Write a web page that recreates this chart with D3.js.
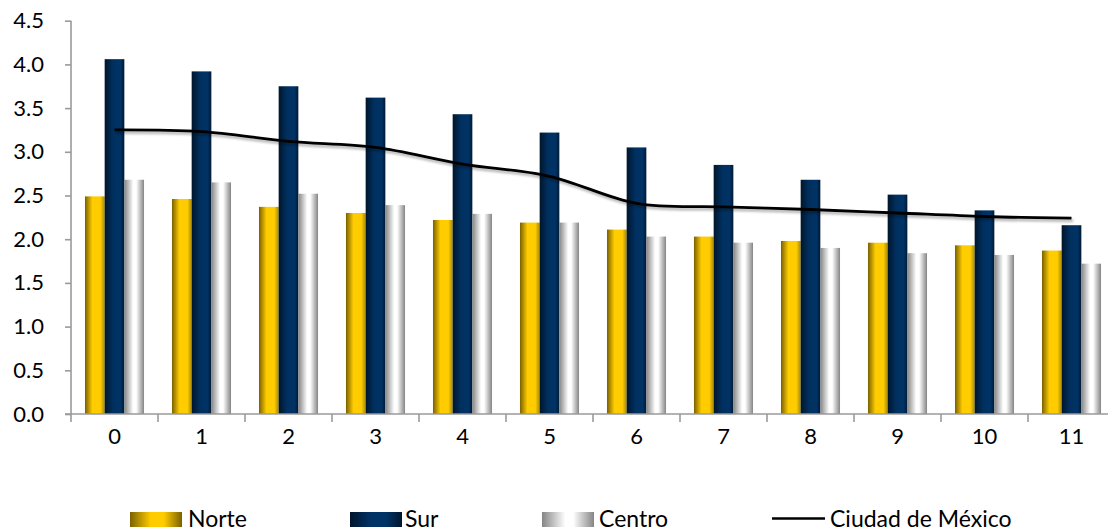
<!DOCTYPE html>
<html>
<head>
<meta charset="utf-8">
<script src="https://cdn.jsdelivr.net/npm/d3@7"></script>
<style>
  html, body { margin: 0; padding: 0; background: #ffffff; }
  svg { display: block; }
  text { font-family: Lato, "Noto Sans", sans-serif; fill: #000; }
</style>
</head>
<body>
<svg id="chart" width="1108" height="532"></svg>
<script>
// Categories and series
const categories = ["0", "1", "2", "3", "4", "5", "6", "7", "8", "9", "10", "11"];
const seriesNames = ["Norte", "Sur", "Centro"];
const norte  = [2.49, 2.46, 2.37, 2.30, 2.22, 2.19, 2.11, 2.03, 1.98, 1.96, 1.93, 1.87];
const sur    = [4.06, 3.92, 3.75, 3.62, 3.43, 3.22, 3.05, 2.85, 2.68, 2.51, 2.33, 2.16];
const centro = [2.68, 2.65, 2.52, 2.39, 2.29, 2.19, 2.03, 1.96, 1.90, 1.84, 1.82, 1.72];
const cdmx   = [3.25, 3.23, 3.12, 3.05, 2.86, 2.72, 2.41, 2.37, 2.34, 2.30, 2.26, 2.24];
const lineName = "Ciudad de México";
const yTicks = [0, 0.5, 1, 1.5, 2, 2.5, 3, 3.5, 4, 4.5];

const svg = d3.select("#chart");
const defs = svg.append("defs");

// Horizontal cylinder-like gradients for each series
const gradients = {
  Norte:  [[0, "#7a6100"], [0.38, "#ffcc00"], [0.78, "#ffcc00"], [1, "#a88a00"]],
  Sur:    [[0, "#00152b"], [0.42, "#00305f"], [0.8, "#003366"], [1, "#001a35"]],
  Centro: [[0, "#858585"], [0.45, "#ffffff"], [0.6, "#ffffff"], [1, "#858585"]]
};
const legendGradients = {
  Norte:  [[0, "#7a6100"], [0.4, "#ffcc00"], [0.65, "#ffcc00"], [1, "#7a6100"]],
  Sur:    [[0, "#00152b"], [0.4, "#003366"], [0.7, "#003366"], [1, "#00152b"]],
  Centro: [[0, "#858585"], [0.45, "#ffffff"], [0.6, "#ffffff"], [1, "#858585"]]
};
function makeGrad(id, stops) {
  const g = defs.append("linearGradient").attr("id", id)
    .attr("x1", "0%").attr("x2", "100%").attr("y1", "0%").attr("y2", "0%");
  stops.forEach(([o, c]) => g.append("stop").attr("offset", o).attr("stop-color", c));
}
seriesNames.forEach(s => {
  makeGrad("grad-" + s, gradients[s]);
  makeGrad("lgrad-" + s, legendGradients[s]);
});

const shadow = defs.append("filter").attr("id", "lineShadow")
  .attr("x", "-5%").attr("y", "-50%").attr("width", "110%").attr("height", "200%");
shadow.append("feDropShadow").attr("dx", 1.5).attr("dy", 2.5)
  .attr("stdDeviation", 1.2).attr("flood-color", "#000").attr("flood-opacity", 0.3);

// Scales
const plotLeft = 71, plotRight = 1115, plotTop = 20.7, plotBottom = 414;
const x0 = d3.scaleBand().domain(categories).range([plotLeft, plotRight]).padding(0);
const x1 = d3.scaleBand().domain(seriesNames).range([0, x0.bandwidth()])
  .paddingInner(0).paddingOuter(0.71);
const y = d3.scaleLinear().domain([0, 4.5]).range([plotBottom, plotTop]);

const values = { Norte: norte, Sur: sur, Centro: centro };

// Bars
const groups = svg.append("g").selectAll("g")
  .data(categories).join("g")
  .attr("transform", d => `translate(${x0(d)},0)`);
groups.selectAll("rect")
  .data((d, i) => seriesNames.map(s => ({ s, v: values[s][i] })))
  .join("rect")
  .attr("x", d => x1(d.s))
  .attr("width", x1.bandwidth())
  .attr("y", d => y(d.v))
  .attr("height", d => y(0) - y(d.v))
  .attr("fill", d => `url(#grad-${d.s})`);

// Axes
const axisColor = "#9a9a9a";
const yAxis = svg.append("g")
  .attr("transform", `translate(${plotLeft},0)`)
  .call(d3.axisLeft(y).tickValues(yTicks).tickFormat(d3.format(".1f")).tickSize(6).tickPadding(21));
yAxis.select(".domain").attr("stroke", axisColor).attr("stroke-width", 1.6)
  .attr("d", `M0,${plotTop}V${plotBottom}`);
yAxis.selectAll(".tick line").attr("stroke", axisColor).attr("stroke-width", 1.6);
yAxis.selectAll(".tick text").attr("font-size", 22).attr("fill", "#000")
  .style("font-family", "Lato, 'Noto Sans', sans-serif");

const xAxis = svg.append("g")
  .attr("transform", `translate(0,${plotBottom})`)
  .call(d3.axisBottom(x0).tickSize(0).tickPadding(14));
xAxis.select(".domain").attr("stroke", axisColor).attr("stroke-width", 1.6)
  .attr("d", `M${plotLeft - 6},0H${plotRight}`);
xAxis.selectAll(".tick text").attr("font-size", 22).attr("fill", "#000")
  .style("font-family", "Lato, 'Noto Sans', sans-serif");
// Category boundary ticks
xAxis.append("g").selectAll("line")
  .data(categories.concat(["end"]))
  .join("line")
  .attr("x1", (d, i) => plotLeft + i * x0.step())
  .attr("x2", (d, i) => plotLeft + i * x0.step())
  .attr("y1", 0).attr("y2", 8)
  .attr("stroke", axisColor).attr("stroke-width", 1.6);

// Smoothed line series
const line = d3.line()
  .x((d, i) => x0(categories[i]) + x0.bandwidth() / 2)
  .y(d => y(d))
  .curve(d3.curveCardinal.tension(0));
svg.append("path")
  .datum(cdmx)
  .attr("d", line)
  .attr("fill", "none")
  .attr("stroke", "#000")
  .attr("stroke-width", 2.8)
  .attr("stroke-linejoin", "round")
  .attr("filter", "url(#lineShadow)");

// Legend
const legend = svg.append("g");
const legendItems = [
  { name: "Norte",  sx: 130, tx: 188 },
  { name: "Sur",    sx: 350, tx: 405 },
  { name: "Centro", sx: 542, tx: 599 }
];
legendItems.forEach(it => {
  legend.append("rect")
    .attr("x", it.sx).attr("y", 512).attr("width", 52).attr("height", 15)
    .attr("fill", `url(#lgrad-${it.name})`);
  legend.append("text")
    .attr("x", it.tx).attr("y", 527).attr("font-size", 23).text(it.name);
});
legend.append("line")
  .attr("x1", 772).attr("x2", 825).attr("y1", 518.5).attr("y2", 518.5)
  .attr("stroke", "#000").attr("stroke-width", 2.5);
legend.append("text")
  .attr("x", 830).attr("y", 527).attr("font-size", 23).text(lineName);
</script>
</body>
</html>
